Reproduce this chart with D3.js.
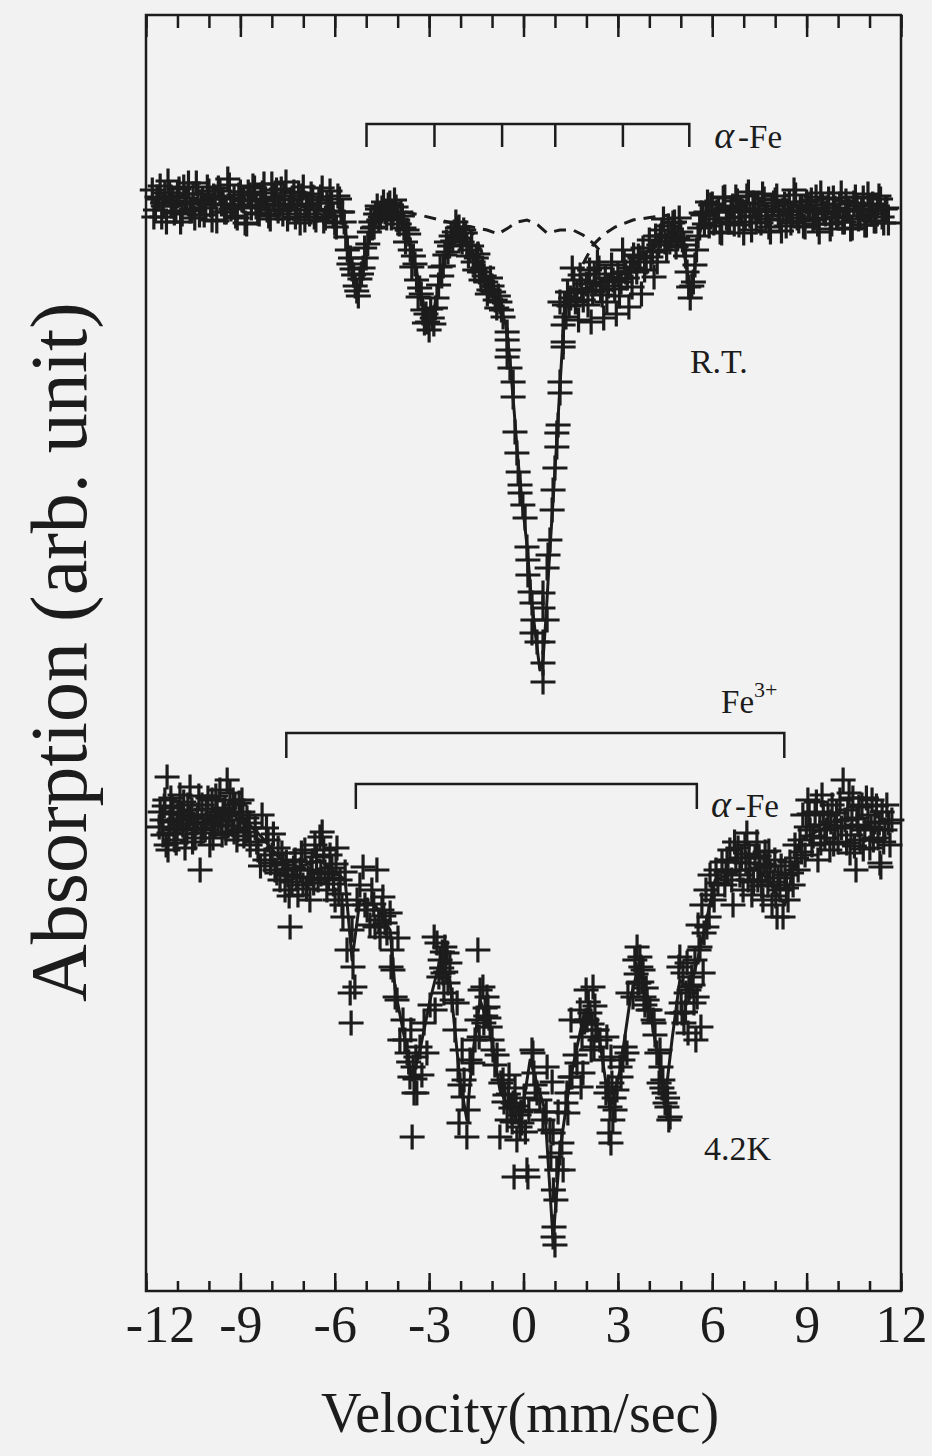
<!DOCTYPE html>
<html>
<head>
<meta charset="utf-8">
<script src="https://cdn.jsdelivr.net/npm/d3@7"></script>
<style>
  html, body { margin: 0; padding: 0; background: #f2f2f2; }
  svg { display: block; }
  text { font-family: "Liberation Serif", "DejaVu Serif", serif; fill: #1c1c1c; }
</style>
</head>
<body>
<svg width="932" height="1456"></svg>
<script>
// Mossbauer spectra, velocity (mm/s) vs absorption (arb. unit)

// room temperature spectrum: [velocity, absorption]
const rtData = [
  [-11.8,110.2],[-11.7,108.2],[-11.6,109.3],[-11.5,107.5],[-11.4,109.9],[-11.3,111.1],[-11.2,108.6],[-11.1,107.9],[-11.0,109.6],[-10.9,107.0],
  [-10.8,110.5],[-10.7,109.0],[-10.6,108.1],[-10.5,109.8],[-10.4,110.9],[-10.3,107.7],[-10.2,109.2],[-10.1,108.4],[-10.0,110.1],[-9.9,107.2],
  [-9.8,109.5],[-9.7,110.4],[-9.6,108.8],[-9.5,108.0],[-9.4,111.3],[-9.3,108.3],[-9.2,109.4],[-9.1,107.4],[-9.0,110.0],[-8.9,109.1],
  [-8.8,106.8],[-8.7,109.7],[-8.6,110.6],[-8.5,108.5],[-8.4,107.8],[-8.3,109.9],[-8.2,109.3],[-8.1,107.6],[-8.0,110.8],[-7.9,108.7],
  [-7.8,108.1],[-7.7,110.3],[-7.6,109.6],[-7.5,107.3],[-7.4,109.2],[-7.3,110.0],[-7.2,108.2],[-7.1,106.9],[-7.0,110.5],[-6.9,108.8],
  [-6.8,107.8],[-6.7,109.5],[-6.6,107.2],[-6.5,109.2],[-6.4,110.4],[-6.3,107.4],[-6.2,108.1],[-6.1,108.9],[-6.0,106.9],[-5.9,109.6],[-5.8,108.0],
  [-11.75,107.5],[-11.65,109.5],[-11.55,110.6],[-11.45,108.6],[-11.35,107.0],[-11.25,109.9],[-11.15,109.1],[-11.05,108.1],[-10.95,110.3],[-10.85,107.8],
  [-10.75,109.4],[-10.65,110.9],[-10.55,108.3],[-10.45,107.4],[-10.35,109.8],[-10.25,109.0],[-10.15,107.7],[-10.05,110.5],[-9.95,108.7],[-9.85,109.6],
  [-9.75,107.1],[-9.65,110.1],[-9.55,109.3],[-9.45,108.0],[-9.35,110.7],[-9.25,108.5],[-9.15,107.6],[-9.05,109.7],[-8.95,109.2],[-8.85,106.9],
  [-8.75,110.0],[-8.65,108.4],[-8.55,110.4],[-8.45,107.9],[-8.35,109.1],[-8.25,110.8],[-8.15,108.2],[-8.05,107.3],[-7.95,109.5],[-7.85,110.2],
  [-7.75,108.8],[-7.65,107.8],[-7.55,111.0],[-7.45,108.3],[-7.35,109.3],[-7.25,107.5],[-7.15,109.9],[-7.05,109.6],[-6.95,107.2],[-6.85,108.7],
  [-6.75,109.8],[-6.65,107.5],[-6.55,108.2],[-6.45,109.5],[-6.35,107.1],[-6.25,108.9],[-6.15,110.1],[-6.05,107.6],[-5.95,106.5],[-5.85,109.3],
  [-5.7,107.0],[-5.6,104.2],[-5.5,103.4],[-5.4,101.7],[-5.3,100.1],[-5.2,101.3],[-5.1,102.4],[-5.0,103.4],[-4.9,106.0],[-4.8,106.4],
  [-4.7,107.8],[-4.6,107.2],[-4.5,108.4],
  [-5.75,108.0],[-5.65,105.5],[-5.55,102.8],[-5.45,102.3],[-5.35,100.6],[-5.25,99.6],[-5.15,101.8],[-5.05,104.4],[-4.95,104.8],[-4.85,107.0],
  [-4.75,106.5],[-4.65,108.6],[-4.55,107.5],
  [-4.4,108.0],[-4.3,108.7],[-4.2,107.4],[-4.1,109.2],[-4.0,107.2],[-3.9,108.0],[-3.8,106.4],[-3.7,106.2],[-3.6,104.2],[-3.5,103.6],
  [-3.4,101.2],[-3.3,100.4],[-3.2,98.2],[-3.1,97.8],[-3.0,96.2],[-2.9,97.4],[-2.8,98.4],[-2.7,100.7],[-2.6,101.6],[-2.5,103.7],
  [-2.4,104.0],[-2.3,105.6],
  [-4.45,109.0],[-4.35,107.4],[-4.25,108.9],[-4.15,107.8],[-4.05,108.5],[-3.95,106.8],[-3.85,107.6],[-3.75,105.0],[-3.65,105.8],[-3.55,102.5],
  [-3.45,102.8],[-3.35,99.5],[-3.25,99.8],[-3.15,96.9],[-3.05,97.0],[-2.95,98.3],[-2.85,96.8],[-2.75,99.4],[-2.65,102.5],[-2.55,102.6],
  [-2.45,105.0],[-2.35,104.6],
  [-2.2,106.0],[-2.1,106.4],[-2.0,105.4],[-1.9,106.2],[-1.8,104.7],[-1.7,104.2],[-1.6,103.0],[-1.5,103.4],[-1.4,102.0],[-1.3,102.4],
  [-1.2,101.0],[-1.1,100.2],[-1.0,100.6],[-0.9,99.2],[-0.8,99.6],[-0.7,98.2],
  [-2.25,105.1],[-2.15,107.0],[-2.05,106.5],[-1.95,105.0],[-1.85,105.9],[-1.75,103.6],[-1.65,104.6],[-1.55,102.2],[-1.45,103.8],[-1.35,101.2],
  [-1.25,101.6],[-1.15,99.8],[-1.05,101.4],[-0.95,100.0],[-0.85,98.4],[-0.75,99.0],
  [-0.65,97.5],[-0.52,96.0],[-0.52,95.2],[-0.49,94.2],[-0.52,93.5],[-0.43,92.4],[-0.33,91.0],[-0.33,89.5],[-0.27,86.0],[-0.21,83.9],
  [-0.17,82.0],[-0.11,80.7],[-0.11,79.9],[-0.02,78.7],[0.05,77.4],[0.11,74.5],[0.14,73.2],[0.14,71.7],[0.21,70.0],[0.27,68.9],
  [0.30,67.2],[0.27,65.9],[0.43,65.0],[0.62,62.9],[0.62,61.0],
  [0.62,65.0],[0.75,67.2],[0.62,68.4],[0.62,69.9],[0.75,72.4],[0.78,73.7],[0.84,75.2],[0.91,78.2],[0.94,80.2],[1.00,82.4],
  [1.06,84.5],[1.06,85.9],[1.10,86.7],[1.16,89.9],[1.16,91.0],[1.26,94.5],[1.26,95.0],[1.26,96.7],[1.16,99.0],
  [1.3,98.7],[1.4,100.0],[1.5,99.4],[1.6,101.2],[1.7,99.9],[1.8,101.7],[1.9,99.2],[2.0,100.8],[2.1,102.2],[2.2,100.0],
  [2.3,101.0],[2.4,102.4],[2.5,99.7],[2.6,101.4],[2.7,100.6],[2.8,102.7],[2.9,100.3],[3.0,101.8],[3.1,101.0],[3.2,103.0],
  [3.3,101.4],[3.4,102.4],[3.5,103.7],[3.6,102.0],[3.7,103.4],[3.8,104.4],[3.9,103.0],[4.0,105.2],[4.1,104.0],[4.2,105.6],
  [4.3,104.7],[4.4,106.2],[4.5,105.0],[4.6,106.6],[4.7,105.6],[4.8,107.0],[4.9,105.4],[5.0,106.0],
  [1.35,97.5],[1.75,97.2],[2.15,97.0],[2.55,97.4],[2.95,97.8],[3.35,98.5],[3.75,99.8],[4.15,101.5],[1.55,102.4],[2.35,103.0],
  [3.15,104.2],[4.45,107.3],
  [1.45,98.6],[1.65,99.0],[1.85,100.3],[2.05,98.7],[2.25,101.8],[2.45,100.2],[2.65,99.0],[2.85,101.2],[3.05,99.6],[3.25,102.0],
  [3.45,100.5],[3.65,103.6],[3.85,102.2],[4.05,103.5],[4.25,103.0],[4.35,105.6],[4.55,104.2],[4.65,105.0],[4.75,106.9],[4.85,104.5],
  [4.95,107.4],[5.05,105.2],
  [5.1,104.7],[5.2,102.0],[5.3,99.4],[5.4,101.0],[5.5,104.2],[5.6,106.4],[5.7,107.7],[5.8,108.0],
  [5.15,103.6],[5.25,100.5],[5.35,100.6],[5.45,102.7],[5.55,105.6],[5.65,107.9],[5.75,106.8],[5.85,109.0],
  [5.9,106.6],[6.0,108.8],[6.1,107.3],[6.2,108.2],[6.3,105.9],[6.4,109.5],[6.5,107.0],[6.6,108.4],[6.7,106.8],[6.8,109.1],
  [6.9,108.2],[7.0,105.9],[7.1,109.6],[7.2,107.6],[7.3,108.9],[7.4,107.0],[7.5,108.3],[7.6,109.8],[7.7,107.3],[7.8,106.5],
  [7.9,108.6],[8.0,109.2],[8.1,107.7],[8.2,106.1],[8.3,108.8],[8.4,108.1],[8.5,106.9],[8.6,110.2],[8.7,107.4],[8.8,108.5],
  [8.9,106.6],[9.0,109.0],[9.1,108.3],[9.2,107.2],[9.3,109.5],[9.4,106.0],[9.5,108.7],[9.6,107.8],[9.7,109.3],[9.8,106.8],
  [9.9,108.4],[10.0,107.4],[10.1,109.9],[10.2,107.0],[10.3,108.2],[10.4,106.3],[10.5,108.9],[10.6,108.6],[10.7,107.6],[10.8,109.4],
  [10.9,106.7],[11.0,108.1],[11.1,108.8],[11.2,107.1],[11.3,109.6],[11.4,107.5],[11.5,108.3],[11.6,106.9],
  [5.95,108.7],[6.05,106.9],[6.15,108.0],[6.25,106.0],[6.35,109.4],[6.45,107.4],[6.55,107.0],[6.65,108.6],[6.75,109.5],[6.85,106.7],
  [6.95,108.1],[7.05,107.5],[7.15,110.0],[7.25,106.2],[7.35,108.8],[7.45,108.3],[7.55,106.9],[7.65,109.3],[7.75,107.6],[7.85,106.0],
  [7.95,108.9],[8.05,109.6],[8.15,107.2],[8.25,108.2],[8.35,106.6],[8.45,109.0],[8.55,107.7],[8.65,109.7],[8.75,107.1],[8.85,108.5],
  [8.95,106.5],[9.05,108.7],[9.15,109.2],[9.25,107.4],[9.35,106.8],[9.45,109.9],[9.55,107.9],[9.65,108.4],[9.75,106.3],[9.85,109.4],
  [9.95,107.5],[10.05,108.8],[10.15,107.0],[10.25,109.1],[10.35,108.2],[10.45,106.4],[10.55,109.5],[10.65,107.3],[10.75,108.3],[10.85,106.7],
  [10.95,109.8],[11.05,107.8],[11.15,107.1],[11.25,108.6],[11.35,109.3],[11.45,106.9],[11.55,108.4]
];

// fitted curve through the R.T. spectrum
const rtFit = [
  [-11.87,108.9],[-7.10,108.6],[-5.83,108.0],[-5.67,106.2],[-5.52,103.4],[-5.36,101.0],[-5.26,100.2],[-5.13,101.4],[-5.01,103.7],
  [-4.82,106.4],[-4.56,107.8],[-4.08,108.0],[-3.80,107.2],[-3.61,105.2],[-3.42,102.4],[-3.23,99.4],[-3.04,97.0],[-2.92,97.4],
  [-2.72,100.0],[-2.53,103.0],[-2.27,105.2],[-2.02,105.6],[-1.76,104.7],[-1.45,102.7],[-1.06,100.4],[-0.75,98.6],[-0.56,96.7],
  [-0.43,93.2],[-0.30,88.2],[-0.17,83.0],[-0.05,79.2],[0.11,74.7],[0.24,69.7],[0.37,66.0],[0.52,62.2],[0.62,63.2],[0.72,67.7],
  [0.81,72.7],[0.94,79.2],[1.06,85.2],[1.16,90.7],[1.26,95.7],[1.38,99.0],[1.80,100.2],[2.43,100.9],[3.07,101.6],[3.70,103.2],
  [4.18,104.9],[4.66,106.0],[4.97,105.6],[5.16,103.0],[5.29,100.0],[5.42,101.7],[5.54,105.2],[5.74,107.6],[6.25,108.0],[11.65,108.1]
];

// alpha-Fe sextet component (dashed), pieces left visible above the data
const rtSextetDash = [
  [-5.04,108.3],[-4.40,108.2],[-3.77,108.0],[-3.29,107.7],[-2.65,107.2],[-2.02,106.7],[-1.64,106.5],[-1.16,106.2],[-0.81,105.8],
  [-0.49,106.4],[-0.21,107.0],[0.11,107.2],[0.46,106.7],[0.75,105.9],[1.16,106.2],[1.57,106.2],[1.89,105.7],[2.21,104.9],[2.50,103.9]
];
const rtOtherDashLeft = [[-1.83,106.6],[-1.54,105.6],[-1.29,103.7]];
const rtOtherDashRight = [[1.89,102.8],[2.21,104.7],[2.53,105.7],[2.91,106.5],[3.48,107.2],[4.12,107.5],[4.66,107.7]];

// 4.2 K spectrum: [velocity, absorption]
const lowData = [
  [-11.55,48.0],[-11.46,45.7],[-11.40,49.2],[-11.33,51.5],[-11.30,44.2],[-11.24,47.0],[-11.17,48.4],[-11.08,45.2],[-11.01,46.4],[-10.92,49.7],
  [-10.85,47.7],[-10.76,44.4],[-10.70,46.2],[-10.60,50.5],[-10.54,48.2],[-10.44,45.4],[-10.38,47.0],[-10.28,42.2],[-10.22,48.7],[-10.12,46.2],
  [-10.06,47.7],[-9.97,44.7],[-9.90,49.2],[-9.81,46.7],[-9.74,48.0],[-9.65,50.2],[-9.58,45.7],[-9.49,48.4],[-9.42,51.2],[-9.33,49.9],
  [-9.27,47.2],[-9.17,48.7],[-9.11,45.2],[-9.01,47.7],[-8.95,49.2],[-8.85,46.0],[-8.79,47.4],[-8.69,44.7],
  [-11.49,47.2],[-11.36,44.7],[-11.21,49.4],[-11.11,46.2],[-10.98,48.0],[-10.83,46.7],[-10.67,48.7],[-10.52,45.0],[-10.36,47.7],[-10.19,46.4],
  [-10.03,49.4],[-9.87,45.4],[-9.71,47.2],[-9.55,48.2],[-9.39,46.6],[-9.23,49.2],[-9.08,46.2],[-8.92,48.0],[-8.76,46.4],
  [-11.58,46.5],[-11.42,48.6],[-11.27,45.9],[-11.14,47.8],[-11.04,44.9],[-10.95,47.3],[-10.80,49.0],[-10.73,45.8],[-10.62,47.5],[-10.48,46.8],
  [-10.32,49.6],[-10.25,45.9],[-10.09,48.3],[-9.93,46.9],[-9.78,49.6],[-9.62,47.1],[-9.46,45.9],[-9.36,47.9],[-9.20,46.0],[-9.04,48.9],
  [-8.89,45.6],[-8.72,46.9],
  [-8.53,46.4],[-8.44,44.2],[-8.31,47.7],[-8.22,43.2],[-8.12,45.2],[-7.99,43.7],[-7.90,42.2],[-7.80,44.4],[-7.74,41.2],[-7.64,42.7],
  [-7.58,40.2],[-7.49,41.7],[-7.42,36.5],[-7.36,41.0],[-7.26,43.2],[-7.17,39.7],[-7.10,42.2],[-7.01,40.7],[-6.95,44.2],[-6.85,41.4],
  [-6.79,39.2],[-6.72,43.0],[-6.63,44.7],[-6.53,41.2],[-6.47,45.5],[-6.40,46.0],[-6.31,42.0],[-6.25,40.2],[-6.15,43.7],[-6.09,42.4],
  [-5.99,39.2],[-5.93,44.4],[-5.83,41.2],[-5.77,38.7],
  [-8.48,45.0],[-8.36,42.6],[-8.17,46.4],[-8.04,42.9],[-7.95,45.8],[-7.84,41.9],[-7.68,43.9],[-7.54,43.0],[-7.45,39.6],[-7.31,42.4],
  [-7.21,41.5],[-7.06,43.9],[-6.90,40.3],[-6.76,42.2],[-6.67,40.9],[-6.58,43.5],[-6.44,41.8],[-6.35,44.2],[-6.20,41.4],[-6.04,40.8],
  [-5.96,42.8],[-5.87,39.8],
  [-5.74,37.5],[-5.67,42.0],[-5.61,34.2],[-5.51,29.9],[-5.48,26.9],[-5.45,36.2],[-5.42,32.5],[-5.36,30.5],[-5.29,39.2],[-5.20,40.7],
  [-5.10,42.5],[-5.04,38.7],[-4.97,38.2],[-4.88,36.7],[-4.82,40.2],[-4.72,36.5],[-4.66,42.2],[-4.56,35.5],[-4.50,38.2],[-4.47,39.5],
  [-4.40,36.9],[-4.34,35.9],[-4.24,37.9],[-4.21,32.5],[-4.18,34.2],[-4.15,32.2],[-4.08,29.5],[-4.02,29.2],[-3.99,35.4],
  [-4.44,37.6],[-4.60,37.2],[-4.76,38.8],
  [-3.93,25.2],[-3.83,27.2],[-3.77,25.2],[-3.70,23.9],[-3.61,21.5],[-3.58,26.2],[-3.54,15.5],[-3.51,22.5],[-3.48,19.9],[-3.42,23.5],
  [-3.39,19.9],[-3.29,24.5],[-3.23,21.7],[-3.16,26.9],[-3.07,23.9],[-3.65,23.0],[-3.45,21.3],
  [-2.97,28.7],[-2.84,35.5],[-2.81,28.2],[-2.75,34.9],[-2.69,31.5],[-2.65,33.2],[-2.56,31.9],[-2.53,29.9],[-2.50,34.5],[-2.43,33.9],
  [-2.40,30.9],[-2.34,32.9],[-2.27,29.2],[-2.18,26.2],[-2.11,28.9],[-2.60,32.4],[-2.47,32.0],[-2.58,34.0],
  [-2.08,22.2],[-2.05,16.9],[-2.02,20.7],[-1.95,24.2],[-1.92,19.5],[-1.89,21.2],[-1.80,15.5],[-1.76,18.2],[-1.70,23.2],[-1.61,22.9],[-1.54,25.2],
  [-1.48,27.2],[-1.45,34.2],[-1.41,25.5],[-1.38,30.2],[-1.29,30.5],[-1.26,26.9],[-1.22,28.4],[-1.16,29.5],[-1.13,28.5],[-1.06,26.5],
  [-1.00,25.2],[-0.97,24.2],[-0.91,22.7],[-0.84,23.7],[-1.20,27.6],[-1.10,27.4],
  [-0.75,15.5],[-0.72,20.9],[-0.65,21.2],[-0.59,19.7],[-0.52,17.2],[-0.46,21.7],[-0.40,18.4],[-0.33,18.9],[-0.30,11.5],[-0.27,20.4],
  [-0.21,15.2],[-0.14,17.7],[-0.11,16.5],[-0.05,16.9],[0.02,19.4],[0.11,12.2],[0.14,11.5],[0.17,18.2],
  [-0.62,19.0],[-0.48,19.8],[-0.36,17.0],[-0.24,18.6],[-0.08,18.0],[0.06,16.0],
  [0.27,24.2],[0.30,23.9],[0.33,21.9],[0.37,20.7],[0.43,19.9],[0.52,19.2],[0.62,17.2],[0.75,22.5],[0.72,18.0],[0.84,16.2],
  [0.91,21.0],[0.87,13.5],[0.94,15.9],[0.95,10.2],[0.97,6.5],[0.94,5.5],[1.00,4.7],[1.03,9.2],[1.06,12.2],[1.10,18.0],
  [1.16,13.9],[1.22,14.9],[1.26,12.2],
  [1.35,18.9],[1.38,19.9],[1.41,17.9],[1.48,21.5],[1.51,27.2],[1.54,21.5],[1.64,23.7],[1.70,22.9],[1.80,28.2],[1.83,20.5],
  [1.86,25.5],[1.89,21.9],[1.99,30.2],[2.02,27.2],[2.11,27.9],[2.15,24.2],[2.21,30.5],[2.24,24.5],[2.30,26.2],[2.34,26.2],[2.43,25.2],
  [1.94,27.0],[2.06,29.0],[2.18,26.8],[2.27,28.6],
  [2.53,23.2],[2.65,25.5],[2.62,19.9],[2.75,18.5],[2.72,15.9],[2.78,23.5],[2.81,20.9],[2.78,14.9],[2.84,17.2],[2.91,18.2],
  [2.97,20.2],[3.07,22.5],[3.10,21.5],[3.16,23.2],[3.23,24.5],[3.29,23.9],[3.32,29.9],[2.70,20.5],[2.88,19.4],
  [3.48,29.5],[3.54,33.2],[3.61,34.5],[3.64,30.9],[3.70,33.5],[3.73,32.5],[3.67,30.9],[3.80,32.2],[3.83,29.5],[3.86,28.7],
  [3.93,29.2],[3.96,28.2],[4.02,28.2],[4.12,27.2],[4.15,26.9],[4.18,25.7],[4.24,23.9],[4.34,24.2],[4.37,22.5],[4.31,20.9],
  [4.43,21.2],[4.47,19.9],[4.50,18.9],[4.56,18.5],[4.62,17.2],[4.66,17.5],[3.58,31.8],[3.76,31.0],[3.90,30.4],[4.40,20.4],[4.58,19.4],
  [4.88,27.9],[4.94,32.5],[4.97,33.5],[5.01,28.9],[5.07,31.9],[5.04,27.9],[5.10,26.9],[5.20,32.9],[5.17,29.9],[5.23,25.9],
  [5.26,30.2],[5.29,30.5],[5.42,28.9],[5.52,29.5],[5.48,25.2],[5.58,34.2],[5.61,34.5],[5.64,26.5],[5.71,31.9],[5.74,35.9],
  [5.83,36.5],[5.90,37.5],[5.99,39.7],[6.06,39.2],[6.12,42.2],[6.18,40.9],[6.31,43.0],[6.50,42.2],
  [5.45,33.2],[5.55,36.7],[5.67,38.7],[5.80,40.2],[5.93,41.7],[5.39,30.7],[5.15,28.0],[5.35,31.5],
  [6.40,40.7],[6.56,44.2],[6.66,38.7],[6.75,43.0],[6.88,41.7],[6.98,40.2],[7.04,44.7],[7.10,45.9],[7.20,42.2],[7.26,39.7],
  [7.36,43.4],[7.45,41.2],[7.52,42.4],[7.61,39.2],[7.68,44.0],[7.77,40.7],[7.84,42.0],[7.90,38.7],[7.99,43.2],[8.06,37.5],
  [8.15,40.2],[8.25,37.5],[8.31,41.7],[8.41,39.2],[8.47,43.0],[8.57,40.7],[8.63,44.7],[8.73,42.2],
  [6.47,43.2],[6.82,44.4],[7.14,41.2],[7.42,45.0],[7.74,42.6],[8.09,41.4],
  [6.44,42.0],[6.62,41.2],[6.71,45.0],[6.93,43.4],[7.07,42.9],[7.17,43.8],[7.31,41.0],[7.49,43.6],[7.57,40.6],[7.65,42.8],
  [7.80,44.1],[7.95,41.0],[8.02,39.6],[8.19,42.6],[8.36,40.4],[8.52,41.9],[8.68,43.4],
  [8.79,45.2],[8.88,47.7],[8.95,43.7],[9.04,49.2],[9.11,46.2],[9.17,44.7],[9.27,48.0],[9.36,43.2],[9.42,46.7],[9.49,49.7],
  [9.58,45.4],[9.68,47.7],[9.74,44.2],[9.81,48.7],[9.90,46.4],[10.00,45.0],[10.06,49.2],[10.16,51.2],[10.22,47.2],[10.31,48.2],
  [10.38,43.9],[10.41,45.7],[10.47,49.4],[10.57,42.2],[10.60,47.4],[10.63,46.7],[10.70,45.2],[10.76,48.7],[10.85,46.2],[10.95,47.7],
  [11.01,44.4],[11.08,49.2],[11.17,47.0],[11.27,45.4],[11.33,42.9],[11.36,42.5],[11.40,48.0],[11.49,46.2],[11.55,48.7],[11.65,44.7],[11.71,47.2],
  [8.84,44.0],[8.99,46.5],[9.08,47.8],[9.21,45.6],[9.31,49.0],[9.45,44.9],[9.53,47.9],[9.63,46.2],[9.77,47.0],[9.86,44.8],
  [9.95,47.9],[10.11,46.4],[10.27,44.9],[10.35,49.9],[10.44,47.3],[10.52,44.6],[10.66,48.5],[10.80,44.3],[10.90,49.4],[11.05,46.5],
  [11.12,45.2],[11.22,48.6],[11.31,46.9],[11.45,45.0],[11.60,46.9]
];

// fitted curve through the 4.2 K spectrum
const lowFit = [
  [-11.55,47.0],[-9.01,47.7],[-8.38,45.7],[-7.42,42.2],[-6.47,43.2],[-5.67,41.2],[-5.45,33.2],[-5.20,39.2],[-4.72,38.7],[-4.24,36.2],
  [-4.08,30.2],[-3.77,25.2],[-3.54,21.2],[-3.29,24.2],[-2.97,29.2],[-2.65,33.2],[-2.34,31.2],[-2.02,21.2],[-1.80,17.2],[-1.64,23.2],
  [-1.38,29.2],[-1.06,26.2],[-0.75,20.2],[-0.43,18.2],[-0.11,16.7],[0.21,23.2],[0.68,18.2],[0.94,5.2],[1.16,14.2],[1.48,21.2],
  [1.95,28.2],[2.37,26.2],[2.75,18.2],[3.07,22.2],[3.39,29.2],[3.70,33.2],[4.02,28.2],[4.50,19.2],[4.72,25.2],[4.97,31.2],
  [5.29,30.2],[5.61,34.2],[6.09,41.2],[6.88,42.2],[7.52,42.2],[8.31,38.7],[8.79,45.2],[9.74,46.7],[11.71,46.2]
];

// line positions marked by the stick diagrams
const rtSextetLines = [-4.99, -2.83, -0.68, 1.01, 3.16, 5.27];
const lowFe3Lines = [-7.54, 8.29];
const lowSextetLines = [-5.33, 5.51];

const xTicksMajor = [-12, -9, -6, -3, 0, 3, 6, 9, 12];
const xTicksMinor = d3.range(-12, 13);

const svg = d3.select('svg');
const ink = '#1c1c1c';

svg.append('rect').attr('width', 932).attr('height', 1456).attr('fill', '#f2f2f2');

const x = d3.scaleLinear().domain([-12, 12]).range([146, 901]);
const y = d3.scaleLinear().domain([0, 128]).range([1292, 12]);

const frameTop = 15, frameBottom = 1291;

const g = svg.append('g');

// frame
g.append('rect')
  .attr('x', x(-12)).attr('y', frameTop)
  .attr('width', x(12) - x(-12)).attr('height', frameBottom - frameTop)
  .attr('fill', 'none').attr('stroke', ink).attr('stroke-width', 2.5);

// inward ticks, top and bottom
const topMinor = d3.axisTop(x).tickValues(xTicksMinor).tickSize(-13).tickFormat('');
const topMajor = d3.axisTop(x).tickValues(xTicksMajor).tickSize(-22).tickFormat('');
const botMinor = d3.axisBottom(x).tickValues(xTicksMinor).tickSize(-10).tickFormat('');
const botMajor = d3.axisBottom(x).tickValues(xTicksMajor).tickSize(-18).tickPadding(14)
  .tickFormat(d => String(d));

function styleAxis(sel) {
  sel.select('.domain').remove();
  sel.selectAll('line').attr('stroke', ink).attr('stroke-width', 2.5);
  sel.selectAll('text').attr('font-size', 52).attr('fill', ink)
    .attr('font-family', '"Liberation Serif", serif');
}
g.append('g').attr('transform', `translate(0,${frameTop})`).call(topMinor).call(styleAxis);
g.append('g').attr('transform', `translate(0,${frameTop})`).call(topMajor).call(styleAxis);
g.append('g').attr('transform', `translate(0,${frameBottom})`).call(botMinor).call(styleAxis);
const bottomAxis = g.append('g').attr('transform', `translate(0,${frameBottom})`).call(botMajor).call(styleAxis);
// the first label sits inside the page edge
bottomAxis.selectAll('.tick text').filter(d => d === -12).attr('dx', 14);

// axis titles
svg.append('text')
  .attr('x', 520).attr('y', 1432)
  .attr('text-anchor', 'middle').attr('font-size', 56)
  .text('Velocity(mm/sec)');
svg.append('text')
  .attr('transform', 'translate(86,652) rotate(-90)')
  .attr('text-anchor', 'middle').attr('font-size', 80)
  .text('Absorption (arb. unit)');

// stick diagrams
function bracket(lines, top, bottom) {
  const x0 = x(d3.min(lines)), x1 = x(d3.max(lines));
  let d = `M${x0},${y(bottom)}V${y(top)}H${x1}V${y(bottom)}`;
  lines.slice(1, -1).forEach(v => { d += `M${x(v)},${y(top)}V${y(bottom)}`; });
  g.append('path').attr('d', d).attr('fill', 'none')
    .attr('stroke', ink).attr('stroke-width', 2.5);
}
bracket(rtSextetLines, 116.8, 114.5);
bracket(lowFe3Lines, 55.9, 53.4);
bracket(lowSextetLines, 50.8, 48.3);

// curves
const line = d3.line().x(d => x(d[0])).y(d => y(d[1]));
[rtSextetDash, rtOtherDashLeft, rtOtherDashRight].forEach(s => {
  g.append('path').attr('d', line(s)).attr('fill', 'none')
    .attr('stroke', ink).attr('stroke-width', 3).attr('stroke-dasharray', '12,8');
});
[rtFit, lowFit].forEach(s => {
  g.append('path').attr('d', line(s)).attr('fill', 'none')
    .attr('stroke', ink).attr('stroke-width', 3).attr('stroke-linejoin', 'round');
});

// data markers
const plus = 'M-12.5,0H12.5M0,-12.5V12.5';
function markers(data) {
  g.append('g').selectAll('path').data(data).join('path')
    .attr('d', plus)
    .attr('transform', d => `translate(${x(d[0])},${y(d[1])})`)
    .attr('fill', 'none').attr('stroke', ink).attr('stroke-width', 3.2);
}
markers(rtData);
markers(lowData);

// annotations
function label(v, a, size) {
  return svg.append('text').attr('x', x(v)).attr('y', y(a)).attr('font-size', size);
}
const aFe1 = label(6.06, 114.4, 33);
aFe1.append('tspan').attr('font-style', 'italic').attr('font-size', 38).text('α');
aFe1.append('tspan').attr('dx', 4).text('-Fe');

label(5.29, 91.9, 34).text('R.T.');

const fe3 = label(6.28, 57.9, 33);
fe3.append('tspan').text('Fe');
fe3.append('tspan').attr('font-size', 22).attr('dy', -16).text('3+');

const aFe2 = label(5.96, 47.5, 33);
aFe2.append('tspan').attr('font-style', 'italic').attr('font-size', 38).text('α');
aFe2.append('tspan').attr('dx', 4).text('-Fe');

label(5.74, 13.2, 34).text('4.2K');
</script>
</body>
</html>
